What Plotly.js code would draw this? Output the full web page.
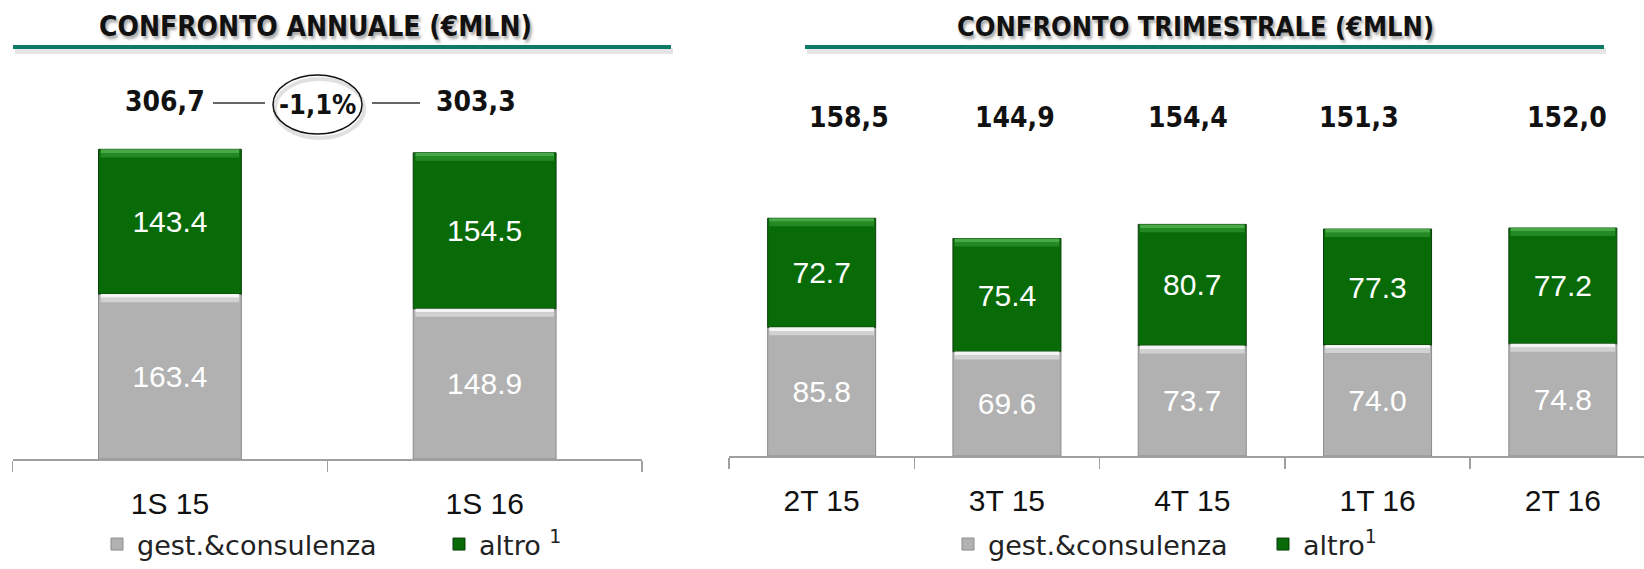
<!DOCTYPE html>
<html>
<head>
<meta charset="utf-8">
<script src="https://cdn.plot.ly/plotly-3.0.1.min.js"></script>
<style>html,body{margin:0;padding:0;background:#fff;}#chart{width:1644px;height:569px;}</style>
</head>
<body>
<div id="chart"></div>
<script>
// ---- data ----
const annualCategories = ["1S 15", "1S 16"];
const annualGestione = [163.4, 148.9];
const annualAltro = [143.4, 154.5];
const annualTotals = ["306,7", "303,3"];
const annualChange = "-1,1%";

const quarterCategories = ["2T 15", "3T 15", "4T 15", "1T 16", "2T 16"];
const quarterGestione = [85.8, 69.6, 73.7, 74.0, 74.8];
const quarterAltro = [72.7, 75.4, 80.7, 77.3, 77.2];
const quarterTotals = ["158,5", "144,9", "154,4", "151,3", "152,0"];

const seriesNames = ["gest.&consulenza", "altro"];

// ---- style ----
const GRAY = "#b1b1b1", GRAY_LINE = "#8c8c8c";
const GREEN = "#086b08", GREEN_LINE = "#0a3f0a";
const thinFont = "Liberation Sans, Arial, sans-serif";
const boldFont = "DejaVu Sans Condensed, DejaVu Sans, sans-serif";

function fmt(v){ return v.toFixed(1); }

function segTraces(cats, gest, altro, xa, ya, lg, bevelUnits, nameAltro, barW){
  const tr = [];
  tr.push({type:"bar", x:cats, y:gest, base:gest.map(()=>0), xaxis:xa, yaxis:ya, width:barW,
    name:seriesNames[0], legend:lg, marker:{color:GRAY, line:{color:GRAY_LINE, width:1}},
    text:gest.map(fmt), textposition:"inside", insidetextanchor:"middle",
    textfont:{family:thinFont, size:30, color:"#ffffff"}, hoverinfo:"skip"});
  tr.push({type:"bar", x:cats, y:altro, base:gest, xaxis:xa, yaxis:ya, width:barW,
    name:nameAltro, legend:lg, marker:{color:GREEN, line:{color:GREEN_LINE, width:1}},
    text:altro.map(fmt), textposition:"inside", insidetextanchor:"middle",
    textfont:{family:thinFont, size:30, color:"#ffffff"}, hoverinfo:"skip"});
  // bevel highlights at the top of each segment (derived from the data)
  const gTop = gest.slice();
  const aTop = gest.map((v,i)=>v+altro[i]);
  const bands = [
    {tops:gTop, off:0, h:bevelUnits*0.45, c:"#f4f4f4"},
    {tops:gTop, off:bevelUnits*0.45, h:bevelUnits*0.55, c:"#d2d2d2"},
    {tops:aTop, off:0, h:bevelUnits*0.45, c:"#46a946"},
    {tops:aTop, off:bevelUnits*0.45, h:bevelUnits*0.55, c:"#238a23"}
  ];
  bands.forEach(b=>{
    tr.push({type:"bar", x:cats, y:b.tops.map(()=>b.h), base:b.tops.map(t=>t-b.off-b.h),
      xaxis:xa, yaxis:ya, showlegend:false, width:barW*0.97, hoverinfo:"skip",
      marker:{color:b.c, line:{width:0}}});
  });
  return tr;
}

const data = [].concat(
  segTraces(annualCategories, annualGestione, annualAltro, "x", "y", "legend", 8, "altro <sup>1</sup>", 0.454),
  segTraces(quarterCategories, quarterGestione, quarterAltro, "x2", "y2", "legend2", 5.3, "altro<sup>1</sup>", 0.583)
);

const H = 569, W = 1644;
const py = p => (H - p) / H;  // pixel row -> paper fraction
const px = p => p / W;

const annotations = [];
function ann(o){ annotations.push(Object.assign({showarrow:false, xanchor:"center", yanchor:"middle"}, o)); }
ann({xref:"paper", yref:"paper", x:px(315), y:py(26), text:"CONFRONTO ANNUALE (€MLN)",
  font:{family:boldFont, size:28, weight:700, color:"#111", shadow:"2px 3px 3px rgba(0,0,0,0.35)"}});
ann({xref:"paper", yref:"paper", x:px(1195), y:py(26), text:"CONFRONTO TRIMESTRALE (€MLN)",
  font:{family:boldFont, size:27, weight:700, color:"#111", shadow:"2px 3px 3px rgba(0,0,0,0.35)"}});
const annualShift = [-5, -9];
annualTotals.forEach((t,i)=>ann({xref:"x", yref:"paper", x:annualCategories[i], y:py(101), text:t,
  xshift:annualShift[i], font:{family:boldFont, size:28, weight:700, color:"#111"}}));
ann({xref:"paper", yref:"paper", x:px(317), y:py(104), text:annualChange,
  font:{family:boldFont, size:27, weight:700, color:"#111"}});
const quarterShift = [27, 8, -4, -19, 4];
quarterTotals.forEach((t,i)=>ann({xref:"x2", yref:"paper", x:quarterCategories[i], y:py(118), text:t,
  xshift:quarterShift[i], font:{family:boldFont, size:28, weight:700, color:"#111"}}));

const shapes = [
  {type:"line", xref:"paper", yref:"paper", x0:px(15), x1:px(673), y0:py(51), y1:py(51), line:{color:"rgba(0,0,0,0.10)", width:6}},
  {type:"line", xref:"paper", yref:"paper", x0:px(13), x1:px(671), y0:py(47), y1:py(47), line:{color:"#0e7a64", width:4}},
  {type:"line", xref:"paper", yref:"paper", x0:px(807), x1:px(1606), y0:py(51), y1:py(51), line:{color:"rgba(0,0,0,0.10)", width:6}},
  {type:"line", xref:"paper", yref:"paper", x0:px(805), x1:px(1604), y0:py(47), y1:py(47), line:{color:"#0e7a64", width:4}},
  {type:"line", xref:"paper", yref:"paper", x0:px(213), x1:px(265), y0:py(103), y1:py(103), line:{color:"#333", width:1.5}},
  {type:"line", xref:"paper", yref:"paper", x0:px(372), x1:px(420), y0:py(103), y1:py(103), line:{color:"#333", width:1.5}},
  {type:"circle", xref:"paper", yref:"paper", x0:px(275), x1:px(364), y0:py(79), y1:py(138), line:{color:"rgba(0,0,0,0.12)", width:4}},
  {type:"circle", xref:"paper", yref:"paper", x0:px(273), x1:px(362), y0:py(75), y1:py(134), line:{color:"#111", width:1.5}, fillcolor:"rgba(0,0,0,0)"}
];

const axisCommon = {type:"category", showgrid:false, zeroline:false, showline:true, linecolor:"#a0a0a0", linewidth:1.5,
  ticks:"outside", tickson:"boundaries", ticklen:11, tickcolor:"#a0a0a0", tickwidth:1.5,
  tickfont:{family:thinFont, size:30, color:"#111"}, ticklabelstandoff:17, fixedrange:true};

const layout = {
  width:W, height:H, margin:{l:0, r:0, t:0, b:0, autoexpand:false}, paper_bgcolor:"#fff", plot_bgcolor:"rgba(0,0,0,0)",
  barmode:"overlay", showlegend:true,
  xaxis:Object.assign({}, axisCommon, {domain:[px(12.6), px(642)], anchor:"y", range:[-0.5, 1.5]}),
  yaxis:{domain:[py(459), py(136)], range:[0, 320], visible:false, fixedrange:true},
  xaxis2:Object.assign({}, axisCommon, {domain:[px(729), 1], anchor:"y2", range:[-0.5, 4.438]}),
  yaxis2:{domain:[py(456), py(156)], range:[0, 200], visible:false, fixedrange:true},
  legend:{orientation:"h", x:px(97), y:0, xanchor:"left", yanchor:"bottom", entrywidth:297, entrywidthmode:"pixels",
    font:{family:"DejaVu Sans, sans-serif", size:27, color:"#222"}, bgcolor:"rgba(0,0,0,0)", traceorder:"normal"},
  legend2:{orientation:"h", x:px(948), y:0, xanchor:"left", yanchor:"bottom", entrywidth:270, entrywidthmode:"pixels",
    font:{family:"DejaVu Sans, sans-serif", size:27, color:"#222"}, bgcolor:"rgba(0,0,0,0)", traceorder:"normal"},
  annotations:annotations, shapes:shapes
};

Plotly.newPlot("chart", data, layout, {displayModeBar:false, staticPlot:true});
</script>
</body>
</html>
